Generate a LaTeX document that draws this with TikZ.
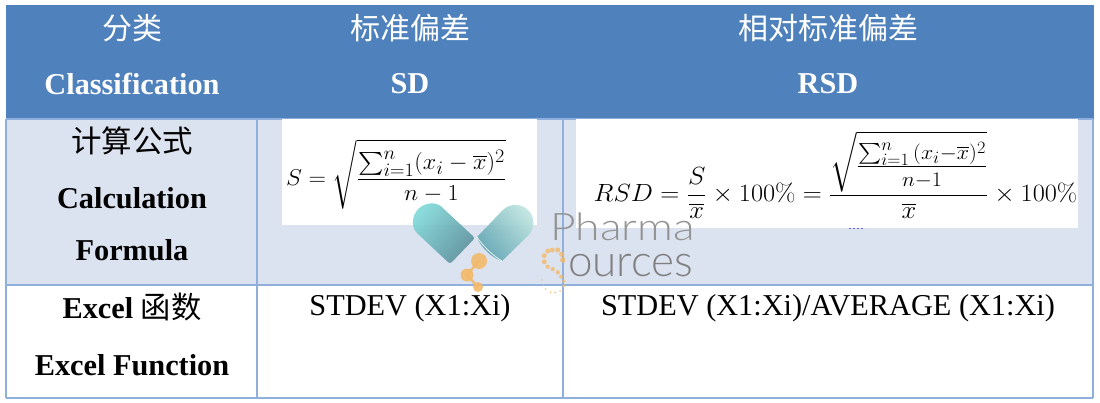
\documentclass[tikz,border=0pt]{standalone}
\usepackage{amsmath}
\usepackage[no-math]{fontspec}
\setmainfont{Liberation Serif}
\newfontfamily\cjk{Noto Sans CJK SC}
\newfontfamily\logofont{Lato Light}
\definecolor{headblue}{HTML}{4F81BD}
\definecolor{rowblue}{HTML}{DCE3F0}
\definecolor{ruleblue}{HTML}{8FB0DC}
\definecolor{capA}{HTML}{7FD8D8}
\definecolor{capB}{HTML}{5B8F9B}
\definecolor{capC}{HTML}{BDE4DF}
\definecolor{capD}{HTML}{5FA5B2}
\definecolor{balls}{HTML}{F3B96A}
\tikzset{
  cellbase/.style={inner sep=0pt,anchor=center},
  headtxt/.style={cellbase,text=white,font=\fontsize{30}{30}\selectfont},
  headbf/.style={cellbase,text=white,font=\fontsize{30.3}{30.3}\selectfont\bfseries},
  bodybf/.style={cellbase,text=black,font=\fontsize{30.3}{30.3}\selectfont\bfseries},
  bodycjk/.style={cellbase,text=black,font=\fontsize{30.5}{30.5}\selectfont},
  bodytxt/.style={cellbase,text=black,font=\fontsize{30.3}{30.3}\selectfont},
  mathtxt/.style={cellbase,font=\fontsize{24.88}{24.88}\selectfont},
  rule/.style={draw=ruleblue,line width=1.4pt},
  logotxt/.style={inner sep=0pt,anchor=base west},
  ball/.style={fill=balls,fill opacity=.9,draw=none},
  swirl/.style={fill=balls,fill opacity=.8,draw=none},
}
\begin{document}
\begin{tikzpicture}[x=1pt,y=-1pt]
\useasboundingbox (0,0) rectangle (1100,402);
\fill[white] (0,0) rectangle (1100,402);
\fill[headblue] (6,5) rectangle (1094,119);
\fill[rowblue] (6,119) rectangle (1093,285);
\draw[rule] (6,119)--(1093,119) (6,285)--(1093,285) (6,398)--(1093,398) (6,119)--(6,398) (1093,119)--(1093,398) (257,119)--(257,398) (563,119)--(563,398);
\fill[white] (282,119) rectangle (537,225);
\fill[white] (576,119) rectangle (1078,228);
\node[headtxt] (h1a) at (132,28) {\cjk 分类};
\node[headbf] (h1b) at (132,84) {Classification};
\node[headtxt] (h2a) at (410,28) {\cjk 标准偏差};
\node[headbf] (h2b) at (410,84) {SD};
\node[headtxt] (h3a) at (828,28) {\cjk 相对标准偏差};
\node[headbf] (h3b) at (828,84) {RSD};
\node[bodycjk] (r1a) at (132,141) {\cjk 计算公式};
\node[bodybf] (r1b) at (132,198) {Calculation};
\node[bodybf] (r1c) at (132,250) {Formula};
\node[bodybf] (r2a) at (132,307) {Excel {\mdseries\cjk 函数}};
\node[bodybf] (r2b) at (132,365) {Excel Function};
\node[bodytxt] (c1) at (410,308) {STDEV (X1:Xi)};
\node[bodytxt] (c2) at (828,308) {STDEV (X1:Xi)/AVERAGE (X1:Xi)};
\node[mathtxt,xscale=.97,yscale=.92] (f1) at (396,174) {$\displaystyle S=\sqrt{\frac{\sum_{i=1}^{n}(x_i-\overline{x})^2}{n-1}}$};
\node[mathtxt,xscale=1.06] (f2) at (835.5,175) {$\displaystyle RSD=\frac{S}{\overline{x}}\times 100\%=\frac{\sqrt{\frac{\sum_{i=1}^{n}\,(x_i-\overline{x})^2\rule[-.15em]{0pt}{1em}}{n-1\rule{0pt}{.75em}}}}{\overline{x}}\times 100\%$};
% logo
\node[logotxt,text=black!42,font=\fontsize{38}{38}\logofont,xscale=1.17] (l1) at (550,240) {Pharma};
\node[logotxt,text=black!50,font=\fontsize{44}{44}\logofont] (l2) at (568,276) {ources};
\begin{scope}[fill opacity=.9]
\shade[top color=capA,bottom color=capB,shading angle=50,rounded corners=2.5pt]
 (475,238) -- (443.6,208.7) arc[start angle=-46,end angle=-226,radius=18] -- (450,264) -- cycle;
\shade[top color=capC,bottom color=capD,shading angle=-50]
 (477,237) -- (502.5,210.4) arc[start angle=-136,end angle=44,radius=18] -- (502,261) .. controls (492,258) and (481,248) .. (477,237) -- cycle;
\end{scope}
\draw[white,line width=.6pt] (477,237) .. controls (483,246) and (492,255) .. (502,261);
\draw[balls,opacity=.9,line width=2.5pt] (479,261)--(467,275)--(478,287);
\fill[ball] (479,261) circle (8);
\fill[ball] (467,275) circle (6.5);
\fill[ball] (478,287) circle (5);
\foreach \px/\py/\pr in {552.3/250/2.5,547.7/251/2.5,544.3/255.7/2.5,544.3/261.7/2.5,547.7/266.7/2.2,552.7/269/2.2,557.7/272.3/2.2,561/276.7/2,563.7/281/1.8,564/285.7/1.5,557.7/250/2.6,561.7/254.3/2.7,562.7/260/2.8,541.7/280/.8,543.3/285/.8,545.7/289/.9,550.7/292.3/1,555/292.3/1,560/291/1,563.3/286.7/1}
  \fill[swirl] (\px,\py) circle (\pr);
\draw[blue!60,line width=.6pt,dash pattern=on 2pt off 2pt] (849,228)--(865,228);
\end{tikzpicture}
\end{document}
